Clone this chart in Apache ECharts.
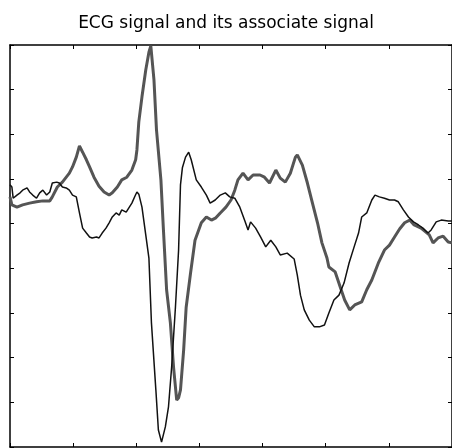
<!DOCTYPE html>
<html>
<head>
<meta charset="utf-8">
<title>ECG signal</title>
<script src="https://cdn.jsdelivr.net/npm/echarts@6/dist/echarts.min.js"></script>
<style>
  html, body { margin: 0; padding: 0; background: #fff; }
  #chart { width: 452px; height: 448px; }
</style>
</head>
<body>
<div id="chart"></div>
<script>
// Sample index (0..700) and amplitude pairs for each trace.
const ecgSignal = [
  [0,0.87],[3,0.82],[5,0.57],[11,0.64],[16,0.69],[20,0.75],[27,0.80],[31,0.71],[36,0.64],[42,0.57],
  [47,0.69],[52,0.75],[58,0.64],[63,0.71],[67,0.91],[74,0.93],[78,0.91],[83,0.82],[89,0.80],[94,0.75],
  [99,0.64],[105,0.60],[110,0.24],[115,-0.10],[121,-0.21],[126,-0.30],[130,-0.32],[137,-0.30],[141,-0.32],
  [146,-0.21],[152,-0.10],[157,0.02],[162,0.15],[168,0.24],[173,0.19],[177,0.31],[184,0.26],[188,0.35],
  [193,0.46],[198,0.62],[201,0.71],[204,0.66],[209,0.37],[215,-0.25],[220,-0.77],[224,-2.22],[231,-3.72],
  [235,-4.62],[240,-4.89],[246,-4.55],[251,-4.10],[256,-3.21],[262,-1.87],[267,-0.59],[270,0.87],[273,1.25],
  [278,1.49],[283,1.60],[287,1.43],[295,0.98],[303,0.82],[311,0.64],[317,0.46],[325,0.53],[333,0.64],
  [341,0.69],[348,0.60],[356,0.57],[364,0.37],[372,0.06],[377,-0.14],[381,0.04],[389,-0.10],[397,-0.30],
  [405,-0.52],[413,-0.37],[421,-0.52],[428,-0.70],[439,-0.66],[450,-0.79],[455,-1.15],[460,-1.60],
  [466,-1.93],[474,-2.16],[482,-2.31],[490,-2.31],[498,-2.27],[505,-2.00],[513,-1.71],[521,-1.60],
  [529,-1.33],[537,-0.88],[545,-0.52],[552,-0.21],[557,0.15],[565,0.24],[573,0.53],[578,0.64],[585,0.60],
  [593,0.57],[601,0.53],[609,0.53],[615,0.49],[623,0.31],[631,0.15],[639,0.04],[647,-0.03],[654,-0.10],
  [662,-0.21],[667,-0.14],[675,0.04],[683,0.08],[694,0.06],[700,0.06]
];

const associateSignal = [
  [0,0.60],[3,0.42],[11,0.37],[20,0.42],[31,0.46],[42,0.49],[52,0.51],[63,0.51],[67,0.60],[75,0.82],
  [83,0.93],[94,1.13],[99,1.27],[105,1.49],[110,1.74],[115,1.60],[121,1.43],[126,1.27],[133,1.04],
  [141,0.84],[149,0.71],[157,0.64],[162,0.69],[170,0.82],[177,0.98],[185,1.04],[193,1.20],[199,1.43],
  [201,1.65],[204,2.28],[209,2.84],[215,3.44],[220,3.84],[223,3.98],[228,3.22],[232,2.10],[239,0.98],
  [243,-0.14],[248,-1.48],[254,-2.22],[259,-3.21],[264,-3.95],[267,-3.90],[270,-3.72],[275,-2.83],
  [279,-1.87],[286,-1.10],[293,-0.37],[303,0.02],[311,0.15],[319,0.08],[326,0.13],[333,0.24],[342,0.37],
  [350,0.53],[356,0.75],[361,0.98],[369,1.13],[377,0.98],[385,1.09],[396,1.09],[403,1.04],[411,0.91],
  [421,1.20],[428,1.02],[436,0.93],[444,1.13],[452,1.49],[455,1.54],[463,1.31],[471,0.91],[479,0.46],
  [487,0.02],[494,-0.43],[502,-0.77],[505,-0.97],[515,-1.08],[523,-1.42],[530,-1.71],[538,-1.93],
  [546,-1.82],[557,-1.75],[565,-1.48],[573,-1.26],[584,-0.86],[593,-0.59],[601,-0.48],[609,-0.30],
  [617,-0.12],[625,0.02],[633,0.08],[640,-0.03],[651,-0.10],[664,-0.25],[670,-0.43],[678,-0.32],
  [686,-0.28],[694,-0.41],[700,-0.43]
];

const titleText = 'ECG signal and its associate signal';

const xRange = { min: 0, max: 700, interval: 100 };
const yRange = { min: -5, max: 4, interval: 1 };

const frameLine = { show: true, onZero: false, lineStyle: { color: '#000', width: 1.5 } };
const innerTick = { show: true, inside: true, length: 4, lineStyle: { color: '#000', width: 1 } };

function boxAxis(range, position) {
  return {
    type: 'value',
    position: position,
    min: range.min,
    max: range.max,
    interval: range.interval,
    axisLine: frameLine,
    axisTick: innerTick,
    axisLabel: { show: false },
    splitLine: { show: false }
  };
}

const chart = echarts.init(document.getElementById('chart'), null, { renderer: 'canvas' });
chart.setOption({
  animation: false,
  backgroundColor: '#ffffff',
  title: {
    text: titleText,
    left: 'center',
    top: 10,
    textStyle: { fontFamily: 'DejaVu Sans, sans-serif', fontSize: 17, fontWeight: 'normal', color: '#000' }
  },
  grid: { left: 10, top: 45, width: 446, height: 402, containLabel: false },
  xAxis: [boxAxis(xRange, 'bottom'), boxAxis(xRange, 'top')],
  yAxis: [boxAxis(yRange, 'left'), boxAxis(yRange, 'right')],
  series: [
    {
      name: 'associate',
      type: 'line',
      data: associateSignal,
      showSymbol: false,
      smooth: false,
      lineStyle: { color: '#555555', width: 3 },
      z: 2
    },
    {
      name: 'ECG',
      type: 'line',
      data: ecgSignal,
      showSymbol: false,
      smooth: false,
      lineStyle: { color: '#111111', width: 1.5 },
      z: 3
    }
  ]
});
</script>
</body>
</html>
